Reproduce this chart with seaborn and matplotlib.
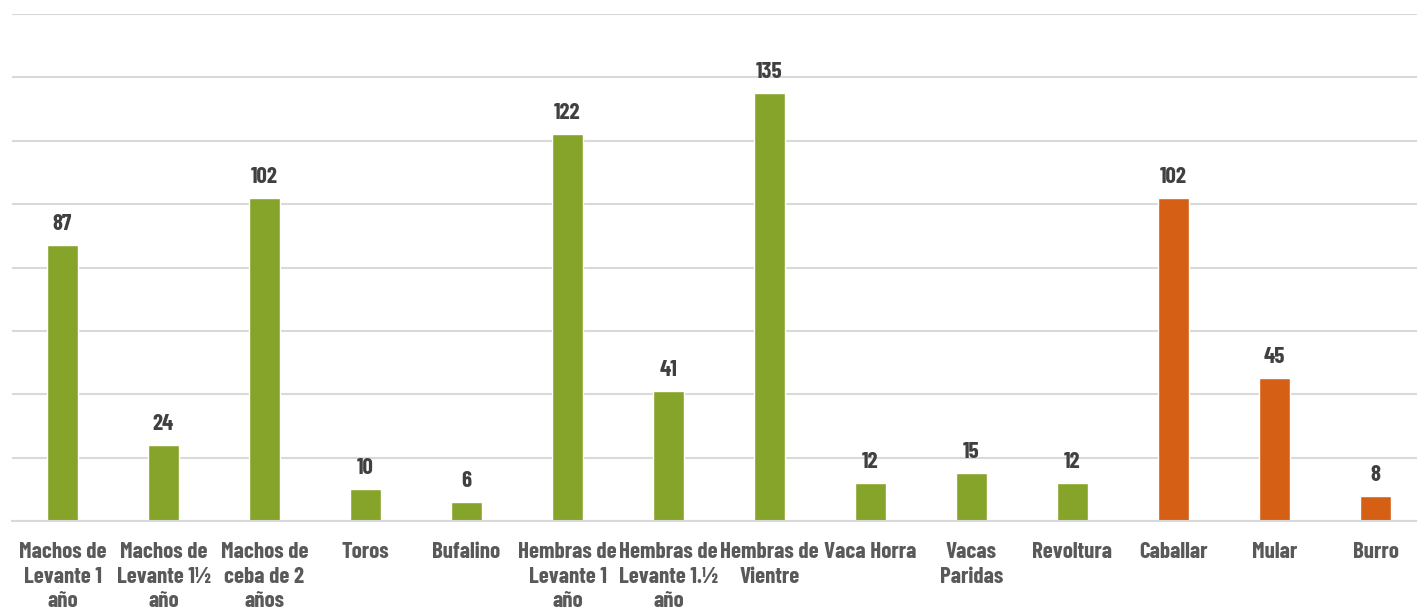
"""Inventario de ganado por categoria - barras."""
import numpy as np
import pandas as pd
import seaborn as sns
import matplotlib.pyplot as plt

CATEGORIAS = ["Machos de\nLevante 1\naño", "Machos de\nLevante 1½\naño", "Machos de\nceba de 2\naños",
              "Toros", "Bufalino", "Hembras de\nLevante 1\naño", "Hembras de\nLevante 1.½\naño",
              "Hembras de\nVientre", "Vaca Horra", "Vacas\nParidas", "Revoltura",
              "Caballar", "Mular", "Burro"]
VALORES = [87, 24, 102, 10, 6, 122, 41, 135, 12, 15, 12, 102, 45, 8]
GRUPO = ["Bovino"] * 11 + ["Equino"] * 3
COLORES = {"Bovino": "#86A42A", "Equino": "#D55F15"}

data = pd.DataFrame({"categoria": CATEGORIAS, "valor": VALORES, "grupo": GRUPO})

sns.set_theme(style="white")
# fuente condensada tipo Futura Cond.
FUENTE = ['Barlow Condensed', 'Roboto Condensed', 'DejaVu Sans']
plt.rcParams['font.family'] = FUENTE
plt.rcParams['font.stretch'] = 'condensed'

fig = plt.figure(figsize=(14.17, 6.12), dpi=100)
ax = fig.add_axes([12 / 1417, (612 - 521) / 612, 1 - 12 / 1417, (521 - 14) / 612])

sns.barplot(data=data, x="categoria", y="valor", hue="grupo", palette=COLORES,
            dodge=False, width=0.315, legend=False, ax=ax, saturation=1)

for cont in ax.containers:
    ax.bar_label(cont, padding=8, fontsize=16.5, fontweight="bold", color="#404040")

ax.set_ylim(0, 160)
ax.set_xlim(-0.5, -0.5 + 1405 / 101)
ax.set_yticks(np.arange(0, 161, 20))
ax.set_yticklabels([])
ax.yaxis.grid(True, color="#D9D9D9", linewidth=1.5)
ax.set_axisbelow(True)
for s in ["top", "right", "left"]:
    ax.spines[s].set_visible(False)
ax.spines["bottom"].set_color("#D9D9D9")
ax.spines["bottom"].set_linewidth(1.5)
ax.tick_params(axis="x", length=0, pad=15)
ax.tick_params(axis="y", length=0)
for t in ax.get_xticklabels():
    t.set_fontsize(16.5)
    t.set_fontweight("bold")
    t.set_color("#595959")
    t.set_verticalalignment("top")
    t.set_linespacing(1.3)
ax.set_xlabel("")
ax.set_ylabel("")

plt.savefig("out.png", dpi=100)
